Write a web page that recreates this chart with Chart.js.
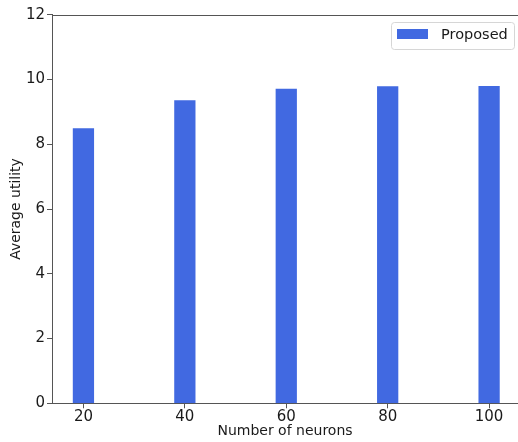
<!DOCTYPE html>
<html>
<head>
<meta charset="utf-8">
<script src="https://cdn.jsdelivr.net/npm/chart.js@4.4.1/dist/chart.umd.min.js"></script>
<style>
  html, body { margin: 0; padding: 0; background: #fff; }
  #wrap { width: 518px; height: 442px; position: relative; }
</style>
</head>
<body>
<div id="wrap"><canvas id="c" width="518" height="442"></canvas></div>
<script>
// Network size (number of neurons) and the average utility reached
const neurons = [20, 40, 60, 80, 100];
const avgUtility = [8.48, 9.35, 9.70, 9.78, 9.79];
const xTicks = [20, 40, 60, 80, 100];
const yTicks = [0, 2, 4, 6, 8, 10, 12];
const seriesName = 'Proposed';

const FONT = "'DejaVu Sans', sans-serif";
const barColor = '#4169E1';
const spineColor = '#555555';
const textColor = '#1a1a1a';

// Top frame line and a boxed legend drawn inside the plot area
const framePlugin = {
  id: 'frame',
  afterDraw(chart) {
    const { ctx, chartArea } = chart;
    ctx.save();
    ctx.strokeStyle = spineColor;
    ctx.lineWidth = 1;
    ctx.beginPath();
    ctx.moveTo(chartArea.left, Math.round(chartArea.top) + 0.5);
    ctx.lineTo(chartArea.right, Math.round(chartArea.top) + 0.5);
    ctx.stroke();

    // legend box
    const ds = chart.data.datasets[0];
    const bx = 391.5, by = 22.5, bw = 123, bh = 27, r = 3;
    ctx.fillStyle = 'rgba(255,255,255,0.8)';
    ctx.strokeStyle = '#d6d6d6';
    ctx.beginPath();
    ctx.roundRect(bx, by, bw, bh, r);
    ctx.fill();
    ctx.stroke();
    ctx.fillStyle = ds.backgroundColor;
    ctx.fillRect(397, 29, 31, 10);
    ctx.fillStyle = textColor;
    ctx.font = '14.5px ' + FONT;
    ctx.textBaseline = 'middle';
    ctx.textAlign = 'left';
    ctx.fillText(ds.label, 441, 35);
    ctx.restore();
  }
};

new Chart(document.getElementById('c'), {
  type: 'bar',
  data: {
    datasets: [{
      label: seriesName,
      data: neurons.map((n, i) => ({ x: n, y: avgUtility[i] })),
      backgroundColor: barColor,
      borderWidth: 0,
      barThickness: 20.6
    }]
  },
  options: {
    responsive: false,
    animation: false,
    layout: { padding: { top: 14.7, right: 0, left: 0, bottom: 0 } },
    plugins: {
      legend: { display: false },
      tooltip: { enabled: false }
    },
    scales: {
      x: {
        type: 'linear',
        min: 13.8,
        max: 105.7,
        offset: false,
        afterBuildTicks: s => { s.ticks = xTicks.map(v => ({ value: v })); },
        afterFit: s => { s.height = 38.7; },
        grid: { offset: false, drawOnChartArea: false, drawTicks: true, tickLength: 5, color: spineColor },
        border: { display: true, color: spineColor, width: 1 },
        ticks: { color: textColor, font: { family: FONT, size: 15 }, padding: 0, maxRotation: 0 },
        title: {
          display: true, text: 'Number of neurons', color: textColor,
          font: { family: FONT, size: 14 }, padding: { top: 0, bottom: 2 }
        }
      },
      y: {
        min: 0,
        max: 12,
        afterBuildTicks: s => { s.ticks = yTicks.map(v => ({ value: v })); },
        afterFit: s => { s.width = 52; },
        grid: { drawOnChartArea: false, drawTicks: true, tickLength: 5, color: spineColor },
        border: { display: true, color: spineColor, width: 1 },
        ticks: { color: textColor, font: { family: FONT, size: 15 }, padding: 2 },
        title: {
          display: true, text: 'Average utility', color: textColor,
          font: { family: FONT, size: 14 }, padding: { top: 8, bottom: 0 }
        }
      }
    }
  },
  plugins: [framePlugin]
});
</script>
</body>
</html>
